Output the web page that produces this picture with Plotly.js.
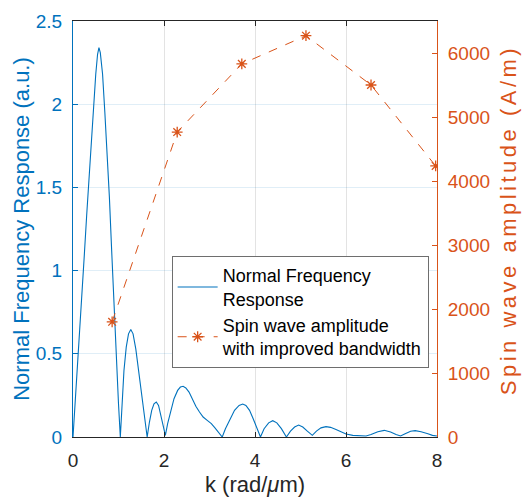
<!DOCTYPE html>
<html>
<head>
<meta charset="utf-8">
<script src="https://cdn.plot.ly/plotly-3.0.1.min.js"></script>
<style>
html,body{margin:0;padding:0;background:#fff}
#chart{width:522px;height:498px}
#chart .g-y2title text{letter-spacing:3.5px}
</style>
</head>
<body>
<div id="chart"></div>
<script>
// Normal frequency response (left axis)
const kResp = [0,0.05,0.1,0.15,0.2,0.25,0.3,0.35,0.4,0.45,0.5,0.54,0.57,0.6,0.65,0.7,0.75,0.8,0.85,0.9,0.95,1.0,1.04,
  1.08,1.12,1.17,1.22,1.27,1.32,1.38,1.44,1.5,1.56,1.63,
  1.68,1.73,1.78,1.83,1.88,1.93,1.98,2.03,
  2.08,2.15,2.22,2.3,2.36,2.42,2.48,2.55,2.62,2.7,2.78,2.86,2.95,3.04,3.12,3.2,3.28,
  3.35,3.45,3.55,3.65,3.73,3.8,3.88,3.96,4.04,4.12,
  4.2,4.3,4.39,4.48,4.58,4.69,
  4.78,4.87,4.96,5.05,5.15,5.26,
  5.35,5.45,5.56,5.66,5.78,5.9,6.0,6.15,6.3,6.44,6.55,6.7,6.84,6.98,7.1,7.2,7.3,7.42,7.52,7.65,7.8,7.9,8.0];
const respVals = [0,0.21,0.43,0.65,0.88,1.1,1.33,1.56,1.78,2.0,2.18,2.3,2.34,2.31,2.18,1.95,1.72,1.44,1.12,0.79,0.43,0.2,0,
  0.22,0.4,0.54,0.62,0.646,0.62,0.53,0.4,0.26,0.12,0,
  0.09,0.16,0.2,0.21,0.19,0.13,0.06,0.01,
  0.08,0.16,0.23,0.28,0.3,0.305,0.295,0.27,0.23,0.185,0.15,0.12,0.1,0.08,0.055,0.03,0,
  0.05,0.11,0.16,0.19,0.198,0.19,0.16,0.11,0.05,0,
  0.05,0.085,0.098,0.085,0.05,0,
  0.035,0.06,0.072,0.06,0.035,0.01,
  0.035,0.055,0.062,0.058,0.045,0.03,0.018,0.01,0.007,0.006,0.015,0.032,0.04,0.03,0.015,0.006,0.02,0.035,0.038,0.032,0.02,0.01,0.006];

// Spin wave amplitude (right axis)
const kSpin = [0.86,2.29,3.71,5.12,6.55,7.97];
const spinVals = [1800,4765,5830,6270,5500,4235];

const xTicks = [0,2,4,6,8];
const yLeftTicks = [0,0.5,1,1.5,2,2.5];
const yRightTicks = [0,1000,2000,3000,4000,5000,6000];

const blue = '#0072BD', orange = '#D95319', dark = '#262626';
const fontFam = 'Arial, "Liberation Sans", Helvetica, sans-serif';

const traces = [
  {x: kResp, y: respVals, type: 'scatter', mode: 'lines', name: 'Normal Frequency<br>Response',
   line: {color: blue, width: 1.1}, yaxis: 'y'},
  {x: kSpin, y: spinVals, type: 'scatter', mode: 'lines+markers', name: 'Spin wave amplitude<br>with improved bandwidth',
   line: {color: orange, width: 1, dash: 'dash'},
   marker: {symbol: 'asterisk-open', size: 9, color: orange, line: {color: orange, width: 1.3}}, yaxis: 'y2'}
];

const layout = {
  width: 522, height: 498,
  margin: {l: 73, r: 84.5, t: 20.5, b: 61, pad: 0},
  paper_bgcolor: '#fff', plot_bgcolor: '#fff',
  font: {family: fontFam, size: 19, color: dark},
  showlegend: true,
  legend: {x: 0.271, y: 0.435, xanchor: 'left', yanchor: 'top', xref: 'paper', yref: 'paper',
    bgcolor: '#fff', bordercolor: '#6e6e6e', borderwidth: 1, itemwidth: 40,
    font: {family: fontFam, size: 18, color: '#000'}, tracegroupgap: 0},
  xaxis: {range: [0, 8], tickvals: xTicks, ticktext: xTicks.map(String), ticks: 'inside', ticklen: 5,
    tickcolor: dark, showline: true, linecolor: dark, linewidth: 1, mirror: 'ticks',
    showgrid: true, gridcolor: 'rgba(38,38,38,0.13)', zeroline: false,
    tickfont: {size: 19, color: dark}, ticklabelstandoff: 6,
    title: {text: 'k (rad/<i>μ</i>m)', font: {size: 22, color: dark}, standoff: 6}},
  yaxis: {range: [0, 2.5], tickvals: yLeftTicks, ticktext: yLeftTicks.map(String), ticks: 'inside', ticklen: 5,
    tickcolor: blue, showline: true, linecolor: blue, linewidth: 1,
    showgrid: true, gridcolor: 'rgba(0,114,189,0.12)', zeroline: false,
    tickfont: {size: 19, color: blue}, ticklabelstandoff: 6,
    title: {text: 'Normal Frequency Response (a.u.)', font: {size: 22, color: blue}, standoff: 0}},
  yaxis2: {range: [0, 6500], tickvals: yRightTicks, ticktext: yRightTicks.map(String), overlaying: 'y', side: 'right',
    ticks: 'inside', ticklen: 5, tickcolor: orange, showline: true, linecolor: orange, linewidth: 1,
    showgrid: false, zeroline: false, exponentformat: 'none',
    tickfont: {size: 19, color: orange}, ticklabelstandoff: 6,
    title: {text: 'Spin wave amplitude (A/m)', font: {size: 22, color: orange}, standoff: 11}}
};

Plotly.newPlot('chart', traces, layout, {displayModeBar: false, staticPlot: true}).then(function (gd) {
  // nudge the right axis title up to match the reference placement
  const g = gd.querySelector('.g-y2title');
  if (g) {
    const prev = g.getAttribute('transform') || '';
    g.setAttribute('transform', prev + ' translate(0,-9)');
  }
});
</script>
</body>
</html>
